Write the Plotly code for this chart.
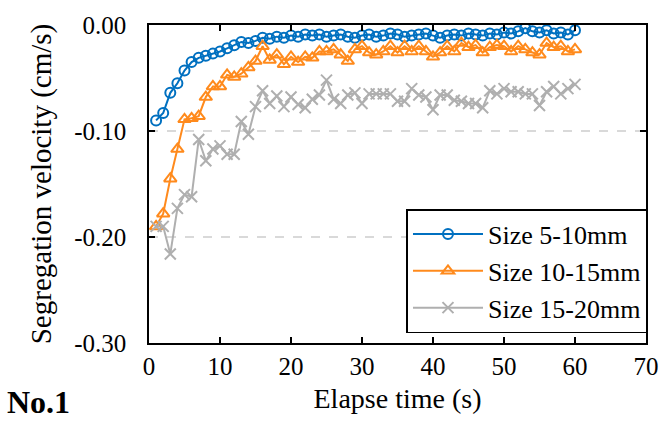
import plotly.graph_objects as go

time_s = list(range(1, 61))

size_5_10 = [-0.090, -0.083, -0.064, -0.055, -0.043, -0.035, -0.031, -0.029, -0.027, -0.025,
             -0.022, -0.019, -0.016, -0.017, -0.015, -0.012, -0.013, -0.011, -0.012, -0.010,
             -0.011, -0.009, -0.010, -0.009, -0.011, -0.010, -0.009, -0.011, -0.012, -0.010,
             -0.009, -0.011, -0.010, -0.008, -0.009, -0.011, -0.010, -0.009, -0.008, -0.010,
             -0.012, -0.010, -0.009, -0.010, -0.008, -0.009, -0.010, -0.008, -0.009, -0.007,
             -0.008, -0.006, -0.003, -0.006, -0.007, -0.005, -0.008, -0.007, -0.009, -0.005]

size_10_15 = [-0.190, -0.178, -0.145, -0.117, -0.089, -0.088, -0.086, -0.068, -0.058, -0.058,
              -0.047, -0.049, -0.046, -0.040, -0.034, -0.020, -0.033, -0.028, -0.037, -0.030,
              -0.035, -0.030, -0.031, -0.025, -0.025, -0.023, -0.028, -0.034, -0.023, -0.020,
              -0.026, -0.028, -0.025, -0.020, -0.026, -0.020, -0.025, -0.020, -0.025, -0.030,
              -0.026, -0.020, -0.025, -0.017, -0.021, -0.019, -0.026, -0.021, -0.019, -0.020,
              -0.025, -0.020, -0.023, -0.026, -0.028, -0.017, -0.021, -0.020, -0.025, -0.023]

size_15_20 = [-0.190, -0.190, -0.216, -0.173, -0.160, -0.162, -0.108, -0.128, -0.117, -0.114,
              -0.122, -0.122, -0.091, -0.103, -0.077, -0.062, -0.074, -0.067, -0.077, -0.068,
              -0.075, -0.078, -0.070, -0.066, -0.052, -0.070, -0.074, -0.066, -0.064, -0.074,
              -0.065, -0.065, -0.065, -0.065, -0.072, -0.072, -0.060, -0.066, -0.068, -0.080,
              -0.066, -0.066, -0.071, -0.072, -0.074, -0.074, -0.078, -0.062, -0.065, -0.060,
              -0.063, -0.063, -0.065, -0.065, -0.076, -0.063, -0.058, -0.065, -0.060, -0.056]

series_names = ["Size 5-10mm", "Size 10-15mm", "Size 15-20mm"]
x_ticks = [0, 10, 20, 30, 40, 50, 60, 70]
y_ticks = [0.0, -0.1, -0.2, -0.3]
y_tick_labels = ["0.00", "-0.10", "-0.20", "-0.30"]

FONT = "Liberation Serif, Times New Roman, serif"

fig = go.Figure()
fig.add_trace(go.Scatter(
    x=time_s, y=size_5_10, name=series_names[0], mode="lines+markers",
    line=dict(color="#0070C0", width=2),
    marker=dict(symbol="circle-open", size=10, color="#0070C0", line=dict(width=2, color="#0070C0")),
))
fig.add_trace(go.Scatter(
    x=time_s, y=size_10_15, name=series_names[1], mode="lines+markers",
    line=dict(color="#FF8A1C", width=2),
    marker=dict(symbol="triangle-up-open", size=11, color="#FF8A1C", line=dict(width=2, color="#FF8A1C")),
))
fig.add_trace(go.Scatter(
    x=time_s, y=size_15_20, name=series_names[2], mode="lines+markers",
    line=dict(color="#AFAFAF", width=2),
    marker=dict(symbol="x-thin-open", size=11, color="#AFAFAF", line=dict(width=2, color="#AFAFAF")),
))

fig.update_layout(
    width=671, height=433,
    margin=dict(l=149, r=13, t=20, b=90),
    paper_bgcolor="white", plot_bgcolor="white",
    font=dict(family=FONT, size=24, color="black"),
    showlegend=True,
    legend=dict(
        x=1.003, y=0.031, xanchor="right", yanchor="bottom",
        bgcolor="white", bordercolor="black", borderwidth=1.5,
        font=dict(family=FONT, size=26, color="black"),
        tracegroupgap=0, itemwidth=70,
    ),
    xaxis=dict(
        range=[0, 70], tickvals=x_ticks, ticktext=[str(v) for v in x_ticks],
        showline=True, linecolor="black", linewidth=1.5, mirror="ticks",
        ticks="inside", ticklen=6, tickwidth=1.5, tickcolor="black",
        showgrid=False, zeroline=False, ticklabelstandoff=0,
        tickfont=dict(family=FONT, size=25),
        title=dict(text="Elapse time (s)", font=dict(family=FONT, size=28), standoff=10),
    ),
    yaxis=dict(
        range=[-0.3, 0.0], tickvals=y_ticks, ticktext=y_tick_labels,
        showline=True, linecolor="black", linewidth=1.5, mirror="ticks",
        ticks="inside", ticklen=6, tickwidth=1.5, tickcolor="black",
        showgrid=True, gridcolor="#D9D9D9", gridwidth=1.5, griddash="dash",
        zeroline=False, ticklabelstandoff=16,
        tickfont=dict(family=FONT, size=25),
        title=dict(text="Segregation velocity (cm/s)", font=dict(family=FONT, size=29), standoff=14),
    ),
    annotations=[dict(
        text="<b>No.1</b>", xref="paper", yref="paper", x=-0.29, y=-0.186,
        xanchor="left", yanchor="middle", showarrow=False,
        font=dict(family=FONT, size=32, color="black"),
    )],
)

fig.write_html("out.html")
